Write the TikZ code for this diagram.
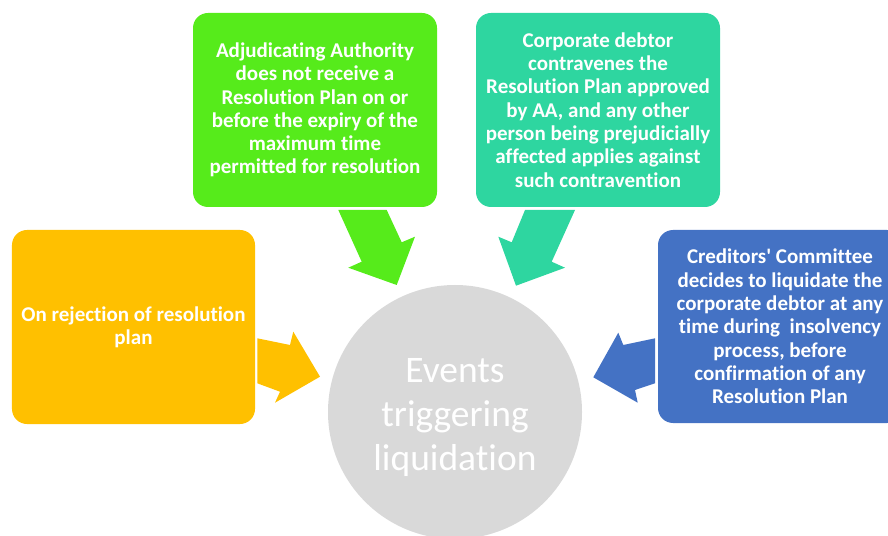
\documentclass[tikz,border=0pt]{standalone}
\usepackage{fontspec}
\setmainfont{Carlito}[Ligatures={NoCommon}]
\newfontfamily\plainfont{Carlito}
\definecolor{yellowc}{HTML}{FFC000}
\definecolor{greenc}{HTML}{56EB1B}
\definecolor{tealc}{HTML}{2ED6A0}
\definecolor{bluec}{HTML}{4472C4}
\definecolor{grayc}{HTML}{D9D9D9}
\begin{document}
\begin{tikzpicture}[x=1bp,y=-1bp,
  box/.style={rectangle, rounded corners=15bp, inner sep=0pt,
    minimum width=244bp, minimum height=194bp, text=white, align=center,
    font=\bfseries\fontsize{21bp}{23.3bp}\selectfont},
  bigtext/.style={text=white, align=center, inner sep=0pt,
    font=\fontsize{37.5bp}{44bp}\selectfont}]
\useasboundingbox (0,0) rectangle (888,536);
\clip (0,0) rectangle (888,536);

% centre circle
\node[circle, fill=grayc, minimum size=254bp, inner sep=0pt] (ev) at (455,412) {};
\node[bigtext] (evtext) at ([yshift=-5bp]ev.center) {Events\\triggering\\liquidation};

% boxes
\node[box, fill=yellowc, minimum width=243bp] (rej) at (133.5,327)
  {On rejection of resolution\\plan};
\node[box, fill=greenc] (aa) at (315,110)
  {Adjudicating Authority\\does not receive a\\Resolution Plan on or\\before the expiry of the\\maximum time\\permitted for resolution};
\node[box, fill=tealc] (cd) at (598,110)
  {Corporate debtor\\contravenes the\\Resolution Plan approved\\by AA, and any other\\person being prejudicially\\affected applies against\\such contravention};
\node[box, fill=bluec, minimum height=193bp] (cc) at (780,326.5)
  {Creditors{\plainfont\bfseries '} Committee\\decides to liquidate the\\corporate debtor at any\\time during~ insolvency\\process, before\\confirmation of any\\Resolution Plan};

% block arrows
\fill[yellowc] (257.3,338.3) -- (290,345) -- (293.3,331.7) -- (320,376.7)
  -- (275,402.7) -- (280,391.7) -- (257.3,383.3) -- cycle;
\fill[greenc] (338.3,210) -- (386.7,210) -- (401.7,242.3) -- (415,236.7)
  -- (396.7,285) -- (348.3,267.7) -- (361.7,261.7) -- cycle;
\fill[tealc] (525,210) -- (575,210) -- (551.7,261.7) -- (565,267.7)
  -- (516,285.7) -- (498.3,236.7) -- (511.7,242.3) -- cycle;
\fill[bluec] (655,338.3) -- (623.3,345) -- (618.3,332.7) -- (593.3,377.3)
  -- (637.7,402.7) -- (635,390) -- (655,383.3) -- cycle;
\end{tikzpicture}
\end{document}
